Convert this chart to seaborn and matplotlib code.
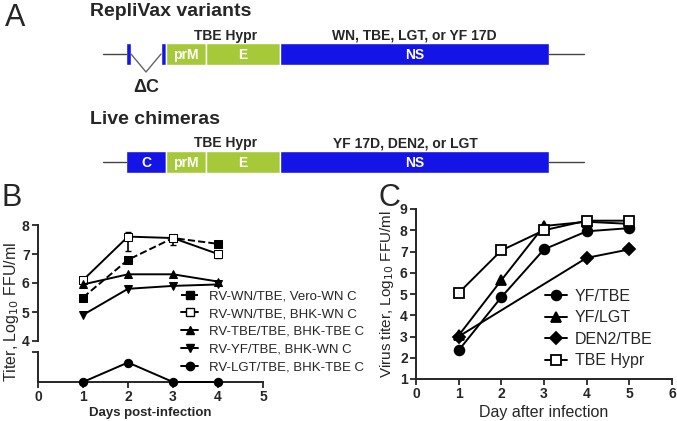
import numpy as np
import pandas as pd
import seaborn as sns
import matplotlib.pyplot as plt

# ----------------------------------------------------
# Data
# ----------------------------------------------------
# panel A: schematic genome segments (schematic length units)
GENES = ["C", "prM", "E", "NS"]
GENE_LEN = [40, 40, 74, 269]
GENE_COLORS = ["#1414e6", "#a6c93a", "#a6c93a", "#1414e6"]

# panel B: growth of RepliVax variants
DAYS_B = [1, 2, 3, 4]
RV_WN_VERO = [5.5, 6.8, 7.55, 7.35]
RV_WN_BHK = [6.1, 7.6, 7.55, 7.0]
RV_WN_BHK_ERR_LO = [0.05, 0.5, 0.25, 0.15]
RV_WN_BHK_ERR_HI = [0.05, 0.15, 0.08, 0.05]
RV_TBE = [5.95, 6.3, 6.3, 6.05]
RV_YF = [4.9, 5.8, 5.9, 5.95]
RV_LGT = [0.0, 0.65, 0.0, 0.0]  # below detection (lower broken axis)
LABELS_B = ["RV-WN/TBE, Vero-WN C", "RV-WN/TBE, BHK-WN C",
            "RV-TBE/TBE, BHK-TBE C", "RV-YF/TBE, BHK-WN C",
            "RV-LGT/TBE, BHK-TBE C"]

# panel C: growth of live chimeras
DAYS_C = [1, 2, 3, 4, 5]
YF_TBE = [2.35, 4.85, 7.1, 7.95, 8.1]
YF_LGT = [3.05, 5.65, 8.2, 8.4, 8.3]
DEN2_TBE = [3.0, np.nan, np.nan, 6.7, 7.1]
TBE_HYPR = [5.05, 7.05, 8.0, 8.45, 8.45]
LABELS_C = ["YF/TBE", "YF/LGT", "DEN2/TBE", "TBE Hypr"]

# ----------------------------------------------------
# Figure setup
# ----------------------------------------------------
sns.set_style("ticks")
plt.rcParams["font.family"] = ["Liberation Sans", "DejaVu Sans"]
W, H = 677, 421
fig = plt.figure(figsize=(W / 100, H / 100), dpi=100)


def px_axes(left, top, right, bottom):
    return fig.add_axes([left / W, 1 - bottom / H, (right - left) / W, (bottom - top) / H])


# ----------------------------------------------------
# Panel A: constructs
# ----------------------------------------------------
axa = fig.add_axes([0, 0, 1, 1])
axa.set_xlim(0, W)
axa.set_ylim(H, 0)
axa.axis("off")

x0 = 126
starts = np.concatenate([[x0], x0 + np.cumsum(GENE_LEN)[:-1]])
ends = starts + np.array(GENE_LEN)


def construct(y, deleted_c):
    h = 22
    axa.plot([103, starts[0]], [y, y], color="#444444", lw=1)
    axa.plot([ends[-1], ends[-1] + 35], [y, y], color="#444444", lw=1)
    for g, s, l, c in zip(GENES, starts, GENE_LEN, GENE_COLORS):
        if g == "C" and deleted_c:
            axa.barh(y, 5, left=s, height=h, color=c)
            axa.barh(y, 5, left=s + l - 5, height=h, color=c)
            axa.plot([s + 5, s + l / 2, s + l - 5], [y, y + 18, y], color="#666666", lw=1)
            axa.text(s + l / 2, y + 33, "ΔC", ha="center", va="center",
                     fontsize=13, fontweight="bold")
            continue
        axa.barh(y, l, left=s, height=h, color=c, edgecolor="white", linewidth=1)
        axa.text(s + l / 2, y + 1, g, ha="center", va="center", color="white",
                 fontsize=10, fontweight="bold")


axa.text(5, 18, "A", fontsize=22, va="center")
axa.text(90, 12, "RepliVax variants", fontsize=14, fontweight="bold", va="center")
axa.text(226, 36, "TBE Hypr", fontsize=10, fontweight="bold", ha="center", va="center")
axa.text(332, 36, "WN, TBE, LGT, or YF 17D", fontsize=10, fontweight="bold", va="center")
construct(54, True)

axa.text(90, 120, "Live chimeras", fontsize=14, fontweight="bold", va="center")
axa.text(226, 143, "TBE Hypr", fontsize=10, fontweight="bold", ha="center", va="center")
axa.text(333, 143, "YF 17D, DEN2, or LGT", fontsize=10, fontweight="bold", va="center")
construct(162, False)

axa.text(2, 198, "B", fontsize=22, va="center")
axa.text(378, 198, "C", fontsize=22, va="center")

# ----------------------------------------------------
# Panel B: broken axis
# ----------------------------------------------------
axb = px_axes(38, 225, 263, 341)
axb2 = px_axes(38, 352, 263, 382)

ms = 6
series_b = [
    (RV_WN_VERO, "s", "black", "--"),
    (RV_WN_BHK, "s", "white", "-"),
    (RV_TBE, "^", "black", "-"),
    (RV_YF, "v", "black", "-"),
]
handles = []
for (vals, mk, fc, ls), lab in zip(series_b, LABELS_B):
    sns.lineplot(x=DAYS_B, y=vals, ax=axb, color="black", marker=mk, markersize=ms,
                 markerfacecolor=fc, markeredgecolor="black", linestyle=ls,
                 linewidth=1.4, clip_on=False, zorder=3)
    handles.append(plt.Line2D([], [], color="black", marker=mk, markersize=ms,
                              markerfacecolor=fc, markeredgecolor="black",
                              linestyle=ls, linewidth=1.4))
axb.errorbar(DAYS_B, RV_WN_BHK, yerr=[RV_WN_BHK_ERR_LO, RV_WN_BHK_ERR_HI], fmt="none",
             ecolor="black", elinewidth=1.2, capsize=2, clip_on=False, zorder=2)

sns.lineplot(x=DAYS_B, y=RV_LGT, ax=axb2, color="black", marker="o", markersize=ms,
             markeredgecolor="black", linewidth=1.4, clip_on=False, zorder=3)
handles.append(plt.Line2D([], [], color="black", marker="o", markersize=ms,
                          markeredgecolor="black", linewidth=1.4))

axb.set_xlim(0, 5)
axb.set_ylim(4, 8)
axb.set_yticks([4, 5, 6, 7, 8])
axb.set_xticks([])
sns.despine(ax=axb, bottom=True)
axb2.set_xlim(0, 5)
axb2.set_ylim(0, 1)
axb2.set_yticks([1])
axb2.set_yticklabels([""])
axb2.set_xticks([0, 1, 2, 3, 4, 5])
sns.despine(ax=axb2)

for a in (axb, axb2):
    a.tick_params(direction="out", length=4, width=1.3, labelsize=10, pad=2)
    for s in a.spines.values():
        s.set_linewidth(1.4)
    for t in a.get_xticklabels() + a.get_yticklabels():
        t.set_fontweight("bold")

axb2.set_xlabel("Days post-infection", fontsize=9.5, fontweight="bold", labelpad=2)
fig.text(12 / W, 1 - 312 / H, "Titer, Log$_{10}$ FFU/ml", rotation=90, fontsize=11.5,
         ha="center", va="center")

fig.legend(handles, LABELS_B, loc="upper left", bbox_to_anchor=(181 / W, 1 - 290 / H),
           frameon=False, fontsize=9.5, handlelength=1.3, handletextpad=0.8,
           labelspacing=0.42, borderpad=0, borderaxespad=0)

# ----------------------------------------------------
# Panel C
# ----------------------------------------------------
axc = px_axes(416, 209, 672, 379)
msc = 7
series_c = [
    (YF_TBE, "o", "black"),
    (YF_LGT, "^", "black"),
    (DEN2_TBE, "D", "black"),
    (TBE_HYPR, "s", "white"),
]
handles_c = []
for (vals, mk, fc), lab in zip(series_c, LABELS_C):
    df = pd.DataFrame({"day": DAYS_C, "titer": vals}).dropna()
    m = msc - 1 if mk == "D" else msc
    sns.lineplot(data=df, x="day", y="titer", ax=axc, color="black", marker=mk,
                 markersize=m, markerfacecolor=fc, markeredgecolor="black",
                 markeredgewidth=1.3, linewidth=1.4, clip_on=False, zorder=3)
    handles_c.append(plt.Line2D([], [], color="black", marker=mk, markersize=m,
                                markerfacecolor=fc, markeredgecolor="black",
                                markeredgewidth=1.3, linewidth=1.4))

axc.set_xlim(0, 6)
axc.set_ylim(1, 9)
axc.set_xticks(range(0, 7))
axc.set_yticks(range(1, 10))
sns.despine(ax=axc)
axc.tick_params(direction="out", length=4, width=1.3, labelsize=10, pad=2)
for s in axc.spines.values():
    s.set_linewidth(1.4)
for t in axc.get_xticklabels() + axc.get_yticklabels():
    t.set_fontweight("bold")
axc.set_xlabel("Day after infection", fontsize=11.5, labelpad=3)
axc.set_ylabel("Virus titer, Log$_{10}$ FFU/ml", fontsize=11, labelpad=3)

fig.legend(handles_c, LABELS_C, loc="upper left", bbox_to_anchor=(545 / W, 1 - 289 / H),
           frameon=False, fontsize=11.5, handlelength=1.4, handletextpad=0.45,
           labelspacing=0.4, borderpad=0, borderaxespad=0)

fig.savefig("out.png", dpi=100)
